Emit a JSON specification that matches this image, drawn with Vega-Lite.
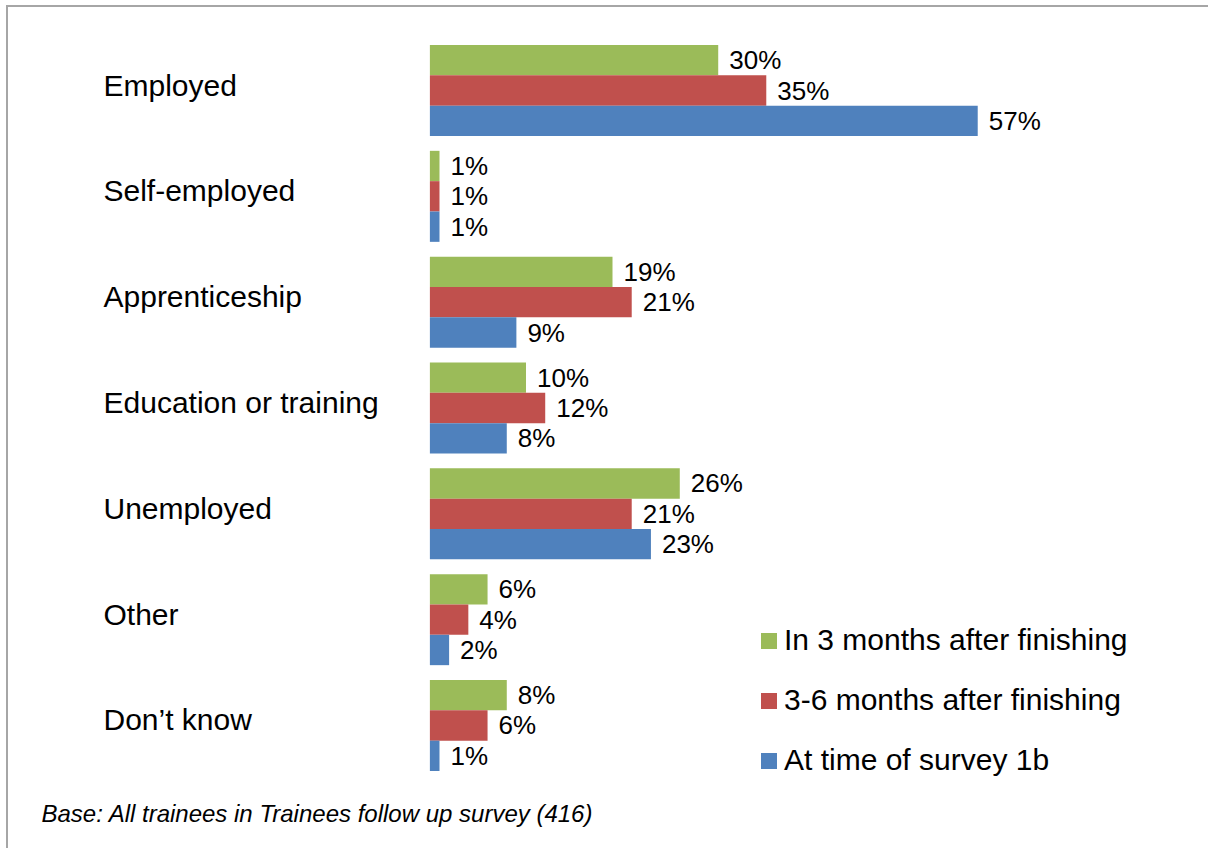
{
  "$schema": "https://vega.github.io/schema/vega-lite/v6.json",
  "width": 1211,
  "height": 850,
  "autosize": {"type": "none"},
  "padding": {"left": 7, "top": 6, "right": 0, "bottom": 0},
  "background": "white",
  "data": {
    "values": [
      {"category": "Employed", "series": "In 3 months after finishing", "value": 0.30},
      {"category": "Employed", "series": "3-6 months after finishing", "value": 0.35},
      {"category": "Employed", "series": "At time of survey 1b", "value": 0.57},
      {"category": "Self-employed", "series": "In 3 months after finishing", "value": 0.01},
      {"category": "Self-employed", "series": "3-6 months after finishing", "value": 0.01},
      {"category": "Self-employed", "series": "At time of survey 1b", "value": 0.01},
      {"category": "Apprenticeship", "series": "In 3 months after finishing", "value": 0.19},
      {"category": "Apprenticeship", "series": "3-6 months after finishing", "value": 0.21},
      {"category": "Apprenticeship", "series": "At time of survey 1b", "value": 0.09},
      {"category": "Education or training", "series": "In 3 months after finishing", "value": 0.10},
      {"category": "Education or training", "series": "3-6 months after finishing", "value": 0.12},
      {"category": "Education or training", "series": "At time of survey 1b", "value": 0.08},
      {"category": "Unemployed", "series": "In 3 months after finishing", "value": 0.26},
      {"category": "Unemployed", "series": "3-6 months after finishing", "value": 0.21},
      {"category": "Unemployed", "series": "At time of survey 1b", "value": 0.23},
      {"category": "Other", "series": "In 3 months after finishing", "value": 0.06},
      {"category": "Other", "series": "3-6 months after finishing", "value": 0.04},
      {"category": "Other", "series": "At time of survey 1b", "value": 0.02},
      {"category": "Don’t know", "series": "In 3 months after finishing", "value": 0.08},
      {"category": "Don’t know", "series": "3-6 months after finishing", "value": 0.06},
      {"category": "Don’t know", "series": "At time of survey 1b", "value": 0.01}
    ]
  },
  "encoding": {
    "y": {
      "field": "category",
      "type": "nominal",
      "sort": ["Employed", "Self-employed", "Apprenticeship", "Education or training", "Unemployed", "Other", "Don’t know"],
      "scale": {"paddingInner": 0.14, "paddingOuter": 0.5859, "align": 0.3145},
      "axis": {
        "title": null,
        "orient": "left",
        "domain": false,
        "ticks": false,
        "tickSize": 0,
        "labelPadding": -96,
        "labelAlign": "left",
        "labelBaseline": "middle",
        "labelOffset": -4,
        "labelFont": "Liberation Sans",
        "labelFontSize": 30,
        "labelColor": "#000000",
        "labelLimit": 400
      }
    },
    "yOffset": {
      "field": "series",
      "type": "nominal",
      "sort": ["In 3 months after finishing", "3-6 months after finishing", "At time of survey 1b"],
      "scale": {"paddingInner": 0, "paddingOuter": 0}
    },
    "x": {
      "field": "value",
      "type": "quantitative",
      "scale": {"domain": [-0.44, 0.82], "nice": false, "zero": false},
      "axis": {
        "orient": "top",
        "domain": false,
        "ticks": false,
        "labels": false,
        "grid": false,
        "title": "Base: All trainees in Trainees follow up survey (416)",
        "titleX": 34,
        "titleY": 815.7,
        "titleAlign": "left",
        "titleBaseline": "alphabetic",
        "titleAnchor": "start",
        "titleFont": "Liberation Sans",
        "titleFontSize": 24,
        "titleFontStyle": "italic",
        "titleFontWeight": "normal",
        "titleColor": "#000000"
      }
    }
  },
  "layer": [
    {
      "mark": {"type": "bar"},
      "encoding": {
        "color": {
          "field": "series",
          "type": "nominal",
          "sort": ["In 3 months after finishing", "3-6 months after finishing", "At time of survey 1b"],
          "scale": {
            "domain": ["In 3 months after finishing", "3-6 months after finishing", "At time of survey 1b"],
            "range": ["#9BBB59", "#C0504D", "#4F81BD"]
          },
          "legend": {
            "title": null,
            "orient": "none",
            "legendX": 747,
            "legendY": 620,
            "padding": 0,
            "symbolType": "square",
            "symbolSize": 256,
            "symbolStrokeWidth": 0,
            "labelOffset": 0,
            "labelFont": "Liberation Sans",
            "labelFontSize": 30,
            "labelColor": "#000000",
            "labelLimit": 500,
            "rowPadding": 30
          }
        }
      }
    },
    {
      "mark": {
        "type": "text",
        "align": "left",
        "baseline": "middle",
        "dx": 11,
        "dy": 1,
        "font": "Liberation Sans",
        "fontSize": 26,
        "color": "#000000"
      },
      "encoding": {
        "text": {"field": "value", "type": "quantitative", "format": ".0%"}
      }
    }
  ],
  "config": {
    "view": {"stroke": "#A6A6A6", "strokeWidth": 2}
  }
}
